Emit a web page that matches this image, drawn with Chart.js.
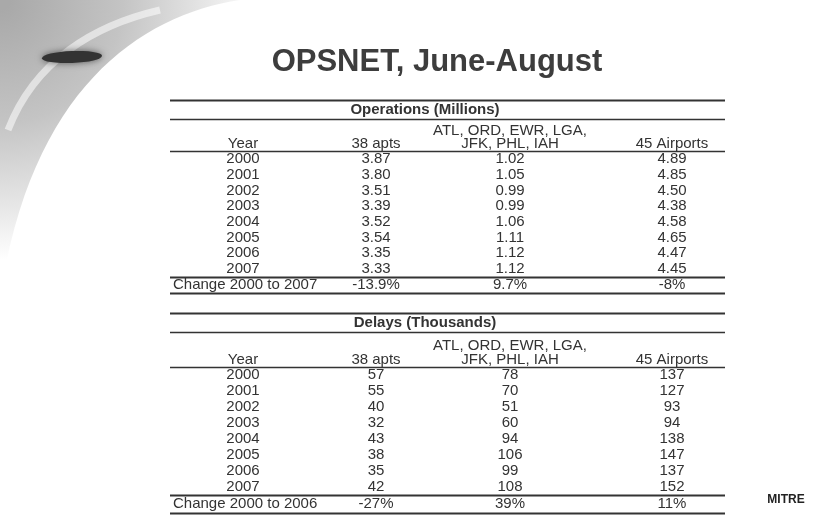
<!DOCTYPE html>
<html>
<head>
<meta charset="utf-8">
<title>OPSNET, June-August</title>
<script src="https://cdn.jsdelivr.net/npm/chart.js@4/dist/chart.umd.min.js"></script>
<style>
  html, body { margin: 0; padding: 0; background: #fff; }
  #wrap { width: 825px; height: 519px; }
</style>
</head>
<body>
<div id="wrap"><canvas id="slide" width="825" height="519"></canvas></div>
<script>
// table data
const years = ["2000", "2001", "2002", "2003", "2004", "2005", "2006", "2007"];
const columnHeads = ["Year", "38 apts", "JFK, PHL, IAH", "45 Airports"];
const groupHeadTop = "ATL, ORD, EWR, LGA,";

const opsApts38 = [3.87, 3.80, 3.51, 3.39, 3.52, 3.54, 3.35, 3.33];
const opsSeven = [1.02, 1.05, 0.99, 0.99, 1.06, 1.11, 1.12, 1.12];
const opsAirports45 = [4.89, 4.85, 4.50, 4.38, 4.58, 4.65, 4.47, 4.45];
const opsChange = ["Change 2000 to 2007", "-13.9%", "9.7%", "-8%"];

const delApts38 = [57, 55, 40, 32, 43, 38, 35, 42];
const delSeven = [78, 70, 51, 60, 94, 106, 99, 108];
const delAirports45 = [137, 127, 93, 94, 138, 147, 137, 152];
const delChange = ["Change 2000 to 2006", "-27%", "39%", "11%"];

// layout (scale units == pixels of the slide)
const W = 825, H = 519;
const tableLeft = 170, tableRight = 725;
const colX = [243, 376, 510, 672];
const changeX = 173;
const headX = 425;
const T1 = { top: 100, head: 110, line1: 119, group: 131, colHead: 144, line2: 151, row0: 159, pitch: 15.7, line3: 277, change: 285, bottom: 293 };
const T2 = { top: 313, head: 323, line1: 332, group: 346, colHead: 360, line2: 367, row0: 375, pitch: 16, line3: 495, change: 504, bottom: 513 };

const textColor = "#333";
const fontFamily = "'Liberation Sans', Arial, sans-serif";
const cellFont = "15px " + fontFamily;
const headFont = "bold 15px " + fontFamily;

function textSet(points, labels, align, font) {
  return {
    data: points,
    labels: labels,
    align: align || "center",
    font: font || cellFont,
    pointRadius: 0,
    showLine: false
  };
}

function buildTable(L, title, cols, change) {
  const sets = [];
  const rowY = years.map((_, i) => L.row0 + i * L.pitch);
  sets.push(textSet([{ x: headX, y: L.head }], [title], "center", headFont));
  sets.push(textSet([{ x: colX[2], y: L.group }], [groupHeadTop]));
  sets.push(textSet(colX.map((x) => ({ x: x, y: L.colHead })), columnHeads));
  sets.push(textSet(rowY.map((y) => ({ x: colX[0], y: y })), years));
  cols.forEach((vals, c) => {
    sets.push(textSet(rowY.map((y) => ({ x: colX[c + 1], y: y })), vals));
  });
  sets.push(textSet([{ x: changeX, y: L.change }], [change[0]], "left"));
  sets.push(textSet(change.slice(1).map((_, c) => ({ x: colX[c + 1], y: L.change })), change.slice(1)));
  return sets;
}

const datasets = [
  ...buildTable(T1, "Operations (Millions)", [
    opsApts38.map((v) => v.toFixed(2)),
    opsSeven.map((v) => v.toFixed(2)),
    opsAirports45.map((v) => v.toFixed(2))
  ], opsChange),
  ...buildTable(T2, "Delays (Thousands)", [
    delApts38.map(String),
    delSeven.map(String),
    delAirports45.map(String)
  ], delChange)
];

// faint grey swoosh in the top-left corner
const swooshPlugin = {
  id: "swoosh",
  beforeDraw(chart) {
    const ctx = chart.ctx;
    ctx.save();
    ctx.fillStyle = "#fff";
    ctx.fillRect(0, 0, W, H);

    ctx.beginPath();
    ctx.moveTo(0, 0);
    ctx.lineTo(240, 0);
    ctx.bezierCurveTo(140, 15, 30, 90, 0, 300);
    ctx.closePath();
    const g = ctx.createRadialGradient(0, 0, 10, 0, 0, 260);
    g.addColorStop(0, "#a9a9a9");
    g.addColorStop(0.45, "#c4c4c4");
    g.addColorStop(0.8, "#e8e8e8");
    g.addColorStop(1, "#ffffff");
    ctx.fillStyle = g;
    ctx.fill();

    // lighter band through the grey
    ctx.beginPath();
    ctx.moveTo(160, 10);
    ctx.bezierCurveTo(95, 25, 35, 60, 8, 130);
    ctx.strokeStyle = "rgba(255,255,255,0.55)";
    ctx.lineWidth = 7;
    ctx.stroke();

    // dark blurred pill
    ctx.shadowColor = "rgba(0,0,0,0.55)";
    ctx.shadowBlur = 7;
    ctx.fillStyle = "#333";
    ctx.beginPath();
    ctx.ellipse(72, 57, 30, 6, -0.04, 0, Math.PI * 2);
    ctx.fill();
    ctx.restore();
  }
};

// rules, title and logo, then the cell text at each point
const tablePlugin = {
  id: "tableText",
  afterDatasetsDraw(chart) {
    const ctx = chart.ctx;
    const x = chart.scales.x, y = chart.scales.y;
    ctx.save();

    ctx.fillStyle = "#3d3d3d";
    ctx.font = "bold 31px " + fontFamily;
    ctx.textAlign = "center";
    ctx.textBaseline = "middle";
    ctx.fillText("OPSNET, June-August", x.getPixelForValue(437), y.getPixelForValue(62));

    ctx.strokeStyle = "#333";
    [T1, T2].forEach((L) => {
      [L.top, L.line1, L.line2, L.line3, L.bottom].forEach((v, k) => {
        ctx.lineWidth = (k === 0 || k >= 3) ? 2.2 : 1.6;
        const py = Math.round(y.getPixelForValue(v)) + 0.5;
        ctx.beginPath();
        ctx.moveTo(x.getPixelForValue(tableLeft), py);
        ctx.lineTo(x.getPixelForValue(tableRight), py);
        ctx.stroke();
      });
    });

    ctx.fillStyle = textColor;
    chart.data.datasets.forEach((ds, i) => {
      const meta = chart.getDatasetMeta(i);
      ctx.font = ds.font;
      ctx.textAlign = ds.align;
      meta.data.forEach((pt, j) => {
        ctx.fillText(ds.labels[j], pt.x, pt.y);
      });
    });

    ctx.fillStyle = "#222";
    ctx.font = "bold 12px " + fontFamily;
    ctx.textAlign = "center";
    ctx.fillText("MITRE", x.getPixelForValue(786), y.getPixelForValue(500));
    ctx.restore();
  }
};

new Chart(document.getElementById("slide"), {
  type: "scatter",
  data: { datasets: datasets },
  options: {
    responsive: false,
    animation: false,
    layout: { padding: 0 },
    plugins: { legend: { display: false }, tooltip: { enabled: false } },
    scales: {
      x: { type: "linear", min: 0, max: W, display: false },
      y: { type: "linear", min: 0, max: H, reverse: true, display: false }
    }
  },
  plugins: [swooshPlugin, tablePlugin]
});
</script>
</body>
</html>
